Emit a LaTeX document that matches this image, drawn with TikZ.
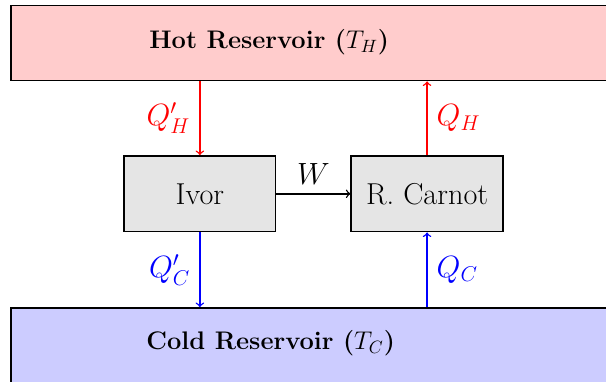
\documentclass[tikz,border=0pt]{standalone}
\usepackage{tikz}
\tikzset{
  engine/.style={draw, thick, fill=gray!20, minimum width=3cm, minimum height=1.5cm, font=\fontsize{17}{20}\selectfont},
  reservoir/.style={draw, thick, minimum width=13cm, minimum height=1.48cm, anchor=north west},
  heat/.style={->, thick, font=\fontsize{17}{20}\selectfont, every node/.style={inner sep=5pt}}
}
\begin{document}
\begin{tikzpicture}
     \useasboundingbox (0,0) rectangle (11.976,-7.53);
     \node[reservoir, fill=red!20] (hot) at (0.2,-0.1){};
     \node[font=\fontsize{14.3}{17}\selectfont\bfseries] (hottext) at (5.32,-0.84){Hot Reservoir ($T_H$)};
     \node[reservoir, fill=blue!20] (cold) at (0.2,-6.07){};
     \node[font=\fontsize{14.3}{17}\selectfont\bfseries] (coldtext) at (5.35,-6.78){Cold Reservoir ($T_C$)};
     \node[engine] (ivor) at (3.95,-3.83){Ivor};
     \node[engine] (carnot) at (8.44,-3.83){R. Carnot};
     \draw[heat, red] (ivor.north |- hot.south) -- node[left]{$Q'_H$} (ivor.north);
     \draw[heat, red] (carnot.north) -- node[right]{$Q_H$} (carnot.north |- hot.south);
     \draw[heat, blue] (ivor.south) -- node[left]{$Q'_C$} (ivor.south |- cold.north);
     \draw[heat, blue] (carnot.south |- cold.north) -- node[right]{$Q_C$} (carnot.south);
     \draw[heat] (ivor) -- node[above]{$W$} (carnot);
    
     \end{tikzpicture}
\end{document}
